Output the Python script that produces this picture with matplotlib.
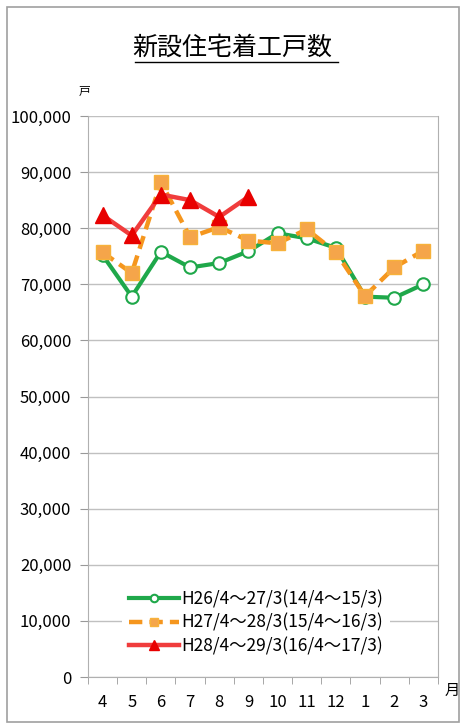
import matplotlib
matplotlib.use("Agg")
import matplotlib.pyplot as plt
from matplotlib.patches import Rectangle

plt.rcParams['font.family'] = ['Noto Sans CJK JP', 'DejaVu Sans']

months = ["4", "5", "6", "7", "8", "9", "10", "11", "12", "1", "2", "3"]
h26 = [75200, 67800, 75800, 73000, 73800, 75900, 79100, 78200, 76500, 67800, 67600, 70000]
h27 = [75700, 72000, 88200, 78400, 80200, 77800, 77300, 79800, 75700, 67900, 73000, 76000]
h28 = [82300, 78700, 86000, 85000, 82000, 85600]
labels = ["H26/4～27/3(14/4～15/3)", "H27/4～28/3(15/4～16/3)", "H28/4～29/3(16/4～17/3)"]
yticks = list(range(0, 100001, 10000))

fig = plt.figure(figsize=(4.64, 7.24), dpi=100)
fig.patches.append(Rectangle((7/464, 2/724), 452/464, 715/724, transform=fig.transFigure,
                             fill=False, edgecolor="#a0a0a0", linewidth=1.2))
ax = fig.add_axes([88/464, 1-677/724, 350/464, 561/724])

x = list(range(len(months)))
ax.plot(x, h26, color="#1fa84a", lw=3, marker="o", ms=9, mfc="white", mec="#1fa84a", mew=1.5,
        label=labels[0], zorder=3)
ax.plot(x, h27, color="#f5961e", lw=3.2, ls=(0, (3, 1.6)), marker="s", ms=10, mfc="#f5a54a",
        mec="#f7b23a", mew=1, label=labels[1], zorder=4)
ax.plot(x[:len(h28)], h28, color="#f03c3c", lw=3.2, marker="^", ms=11, mfc="#e80000",
        mec="#e80000", label=labels[2], zorder=5)

ax.set_xlim(-0.5, len(months) - 0.5)
ax.set_ylim(0, 100000)
ax.set_yticks(yticks)
ax.set_yticklabels([f"{v:,}" for v in yticks], fontsize=12)
ax.set_xticks(x)
ax.set_xticklabels(months, fontsize=12)
ax.set_xticks([i - 0.5 for i in range(len(months) + 1)], minor=True)
ax.tick_params(axis='x', which='major', length=0, pad=12)
ax.tick_params(axis='x', which='minor', length=5, color="#999999")
ax.tick_params(axis='y', length=6, color="#999999", pad=6)
ax.yaxis.grid(True, color="#c0c0c0", lw=1)
ax.set_axisbelow(True)
for s in ax.spines.values():
    s.set_color("#b0b0b0")
ax.spines['top'].set_visible(False)

leg = ax.legend(loc="lower center", bbox_to_anchor=(0.48, 0.011), frameon=True, fontsize=12.5,
                handlelength=2.9, handletextpad=0.15, labelspacing=0.3, borderpad=0.4,
                markerscale=0.6)
leg.get_frame().set_edgecolor("none")
leg.get_frame().set_facecolor("white")
leg.get_frame().set_alpha(1)

fig.text(0.5, 1-48/724, "新設住宅着工戸数", ha="center", va="center", fontsize=18)
fig.add_artist(plt.Line2D([135/464, 338/464], [1-62/724, 1-62/724], color="black", lw=1))
fig.text(85/464, 1-91/724, "戸", ha="center", va="center", fontsize=8.5)
fig.text(452/464, 1-690/724, "月", ha="center", va="center", fontsize=11)

fig.savefig("out.png", dpi=100)
